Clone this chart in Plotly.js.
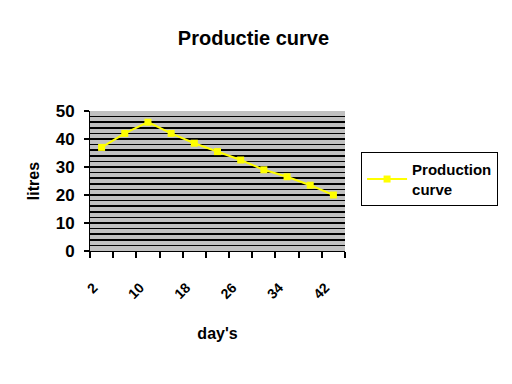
<!DOCTYPE html>
<html><head><meta charset="utf-8">
<script src="https://cdn.plot.ly/plotly-3.0.1.min.js"></script>
<style>html,body{margin:0;padding:0;background:#fff}</style>
</head><body>
<div id="chart" style="width:512px;height:384px"></div>
<script>
const days = [2, 6, 10, 14, 18, 22, 26, 30, 34, 38, 42];
const litres = [37, 42, 46, 42, 38.5, 35.5, 32.5, 29, 26.5, 23.5, 20];
const tickDays = [2, 10, 18, 26, 34, 42];
const tickLabels = ['2', '10', '18', '26', '34', '42'];

const font = 'Liberation Sans, Arial, sans-serif';
Plotly.newPlot('chart', [{
  x: days, y: litres, type: 'scatter', mode: 'lines+markers',
  name: '<b>Production<br>curve</b>',
  line: {color: '#ffff00', width: 2},
  marker: {color: '#ffff00', symbol: 'square', size: 7}
}], {
  width: 512, height: 384,
  margin: {l: 90, r: 167, t: 111, b: 133},
  paper_bgcolor: '#ffffff', plot_bgcolor: '#c0c0c0',
  title: {text: '<b>Productie curve</b>', x: 0.495, xanchor: 'center', y: 0.9, yanchor: 'middle',
          font: {family: font, size: 20, color: '#000'}},
  xaxis: {
    range: [0, 44], tickvals: tickDays, ticktext: tickLabels, tickangle: -45,
    ticks: '', showgrid: false, zeroline: false,
    showline: true, linecolor: '#000', linewidth: 1,
    tickfont: {family: font, size: 14, color: '#000', weight: 'bold'},
    ticklabelstandoff: 22, ticklabelshift: -8,
    minor: {tick0: 0, dtick: 4, ticks: 'outside', ticklen: 6, tickcolor: '#000', tickwidth: 2, showgrid: false},
    title: {text: '<b>day\'s</b>', font: {family: font, size: 16, color: '#000'}, standoff: 26}
  },
  yaxis: {
    range: [0, 50], dtick: 10, tick0: 0, ticks: 'outside', ticklen: 5, tickcolor: '#000', tickwidth: 1.5,
    showline: true, linecolor: '#000', linewidth: 1, zeroline: false,
    showgrid: true, gridcolor: '#000', gridwidth: 2,
    minor: {dtick: 2, showgrid: true, gridcolor: '#000', gridwidth: 1.5, ticks: ''},
    tickfont: {family: font, size: 17, color: '#000', weight: 'bold'},
    ticklabelstandoff: 6,
    title: {text: '<b>litres</b>', font: {family: font, size: 16, color: '#000'}, standoff: 12}
  },
  showlegend: true,
  legend: {x: 1.063, y: 0.707, xanchor: 'left', yanchor: 'top',
           bordercolor: '#000', borderwidth: 1, bgcolor: '#fff', itemwidth: 40,
           font: {family: font, size: 15, color: '#000'}, tracegroupgap: 0}
}, {displayModeBar: false, staticPlot: true});
</script>
</body></html>
